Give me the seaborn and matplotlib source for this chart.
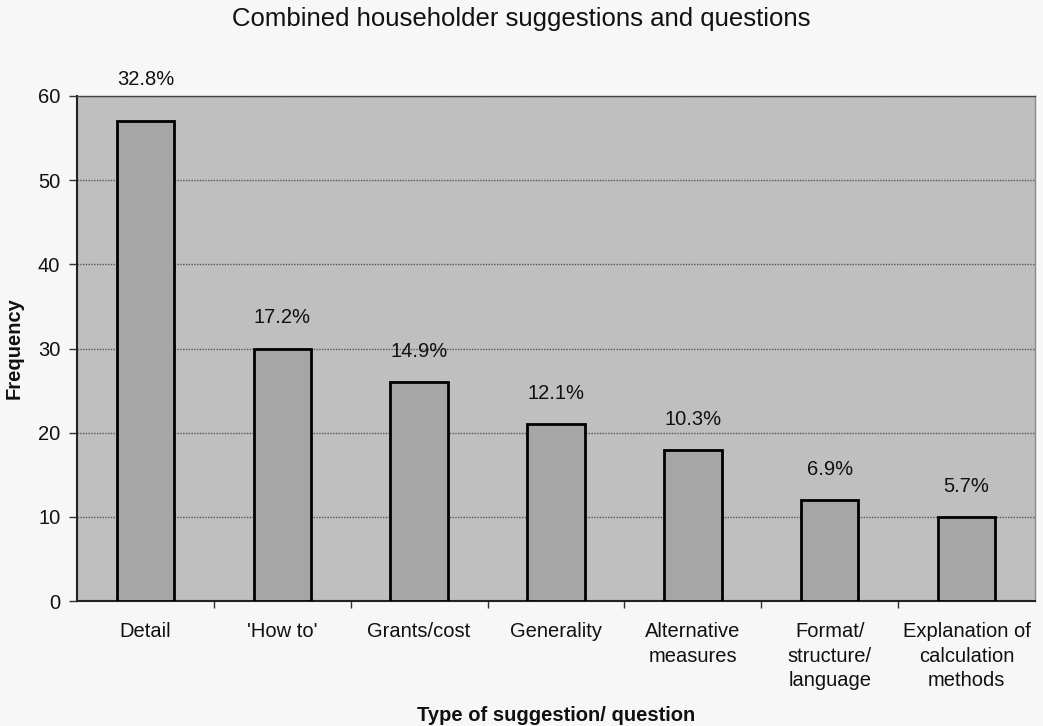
import matplotlib
matplotlib.use("Agg")
import matplotlib.pyplot as plt
import matplotlib.transforms as mtransforms
import seaborn as sns
import pandas as pd
import numpy as np

categories = ["Detail", "'How to'", "Grants/cost", "Generality",
              "Alternative\nmeasures", "Format/\nstructure/\nlanguage",
              "Explanation of\ncalculation\nmethods"]
frequency = [57, 30, 26, 21, 18, 12, 10]
percent_labels = ["32.8%", "17.2%", "14.9%", "12.1%", "10.3%", "6.9%", "5.7%"]
y_ticks = [0, 10, 20, 30, 40, 50, 60]

sns.set_theme(style="white")
plt.rcParams["font.family"] = ["Liberation Sans", "DejaVu Sans"]

df = pd.DataFrame({"category": categories, "frequency": frequency})

fig = plt.figure(figsize=(10.43, 7.26), dpi=100, facecolor="#f7f7f7")
ax = fig.add_axes([0.0738, 0.172, 0.9185, 0.6958])
ax.set_facecolor("#bfbfbf")

sns.barplot(data=df, x="category", y="frequency", color="#a6a6a6",
            saturation=1, width=0.42, edgecolor="black", linewidth=2.0,
            ax=ax, zorder=3)

ax.set_ylim(0, 60)
ax.set_xlim(-0.5, len(categories) - 0.5)
ax.set_yticks(y_ticks)
ax.yaxis.grid(True, color="#555555", linestyle=(0, (1, 1)), linewidth=1.0, zorder=0)
ax.set_axisbelow(True)

# Value labels sit above each bar; a label that would run into the top
# frame is lifted to just above the plot area instead.
fig.canvas.draw()
ymax = ax.get_ylim()[1]
label_offset_pt = 22
for i, (v, lab) in enumerate(zip(frequency, percent_labels)):
    bar_top_px = ax.transData.transform((i, v))[1]
    frame_top_px = ax.transData.transform((i, ymax))[1]
    label_px = bar_top_px + label_offset_pt * fig.dpi / 72
    if label_px > frame_top_px - 12:
        trans = mtransforms.blended_transform_factory(ax.transData, ax.transAxes)
        ax.annotate(lab, xy=(i, 1.0), xycoords=trans, xytext=(0, 12),
                    textcoords="offset points", ha="center", va="center",
                    fontsize=14.5, color="#111111", annotation_clip=False)
    else:
        ax.annotate(lab, xy=(i, v), xytext=(0, label_offset_pt),
                    textcoords="offset points", ha="center", va="center",
                    fontsize=14.5, color="#111111")

ax.set_xticks(range(len(categories)))
ax.set_xticklabels(categories, fontsize=14.5, color="#111111", linespacing=1.38)
ax.set_xticks(np.arange(0.5, len(categories) - 0.5, 1), minor=True)
ax.tick_params(axis="x", which="major", length=0, pad=15)
ax.tick_params(axis="x", which="minor", length=5, width=1, color="#333333",
               direction="out", bottom=True)
ax.tick_params(axis="y", which="major", length=6, width=1, color="#333333",
               direction="out", left=True, labelsize=14.5, labelcolor="#111111", pad=6)

ax.set_xlabel("Type of suggestion/ question", fontsize=14.5, fontweight="bold",
              color="#111111", labelpad=11)
ax.set_ylabel("Frequency", fontsize=14.5, fontweight="bold", color="#111111", labelpad=10)

for side in ["left", "bottom"]:
    ax.spines[side].set_color("#222222")
    ax.spines[side].set_linewidth(1.5)
ax.spines["top"].set_color("#444444")
ax.spines["top"].set_linewidth(1.0)
ax.spines["right"].set_color("#888888")
ax.spines["right"].set_linewidth(1.0)

fig.suptitle("Combined householder suggestions and questions", fontsize=18.5,
             color="#111111", x=0.50, y=0.99)

fig.savefig("out.png", dpi=100, facecolor=fig.get_facecolor())
